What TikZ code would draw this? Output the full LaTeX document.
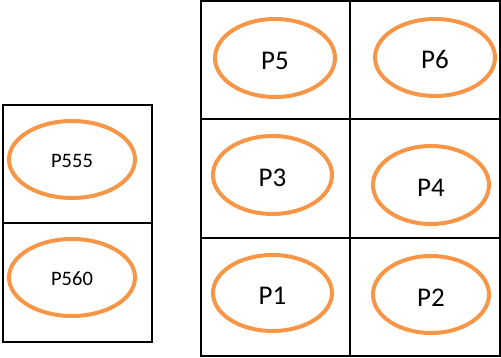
\documentclass[tikz,border=0pt]{standalone}
\usepackage{fontspec}
\setmainfont{Carlito}
\usetikzlibrary{shapes.geometric}
\definecolor{porange}{HTML}{F79646}
\tikzset{
  cell/.style={draw=black, line width=2pt},
  pbig/.style={ellipse, draw=porange, line width=4pt, inner sep=0pt, font=\fontsize{27}{27}\selectfont, text height=23pt, text depth=0pt},
  psmall/.style={ellipse, draw=porange, line width=4pt, inner sep=0pt, font=\fontsize{20.5}{20.5}\selectfont, text height=17pt, text depth=0pt}
}
\begin{document}
\begin{tikzpicture}[x=1pt,y=-1pt]
\useasboundingbox (0,0) rectangle (501,358);
% right grid
\draw[cell] (200.5,1.5) rectangle (499.5,356);
\draw[cell] (350,1.5) -- (350,356);
\draw[cell] (200.5,119.3) -- (499.5,119.3);
\draw[cell] (200.5,238) -- (499.5,238);
% left grid
\draw[cell] (2.5,105) rectangle (152,341.5);
\draw[cell] (2.5,223) -- (152,223);
% ellipses
\node[pbig, minimum width=120pt, minimum height=78pt] (p5) at (275,58) {P5};
\node[pbig, minimum width=120pt, minimum height=77pt] (p6) at (435,57.5) {P6};
\node[pbig, minimum width=119pt, minimum height=78pt] (p3) at (272.5,175) {P3};
\node[pbig, minimum width=116pt, minimum height=78pt] (p4) at (431,185) {P4};
\node[pbig, minimum width=119pt, minimum height=76pt] (p1) at (272.5,293) {P1};
\node[pbig, minimum width=116pt, minimum height=77pt] (p2) at (431,294.5) {P2};
\node[psmall, minimum width=126pt, minimum height=77pt] (p555) at (72,159.5) {P555};
\node[psmall, minimum width=126pt, minimum height=77pt] (p560) at (72,277.5) {P560};
\end{tikzpicture}
\end{document}
